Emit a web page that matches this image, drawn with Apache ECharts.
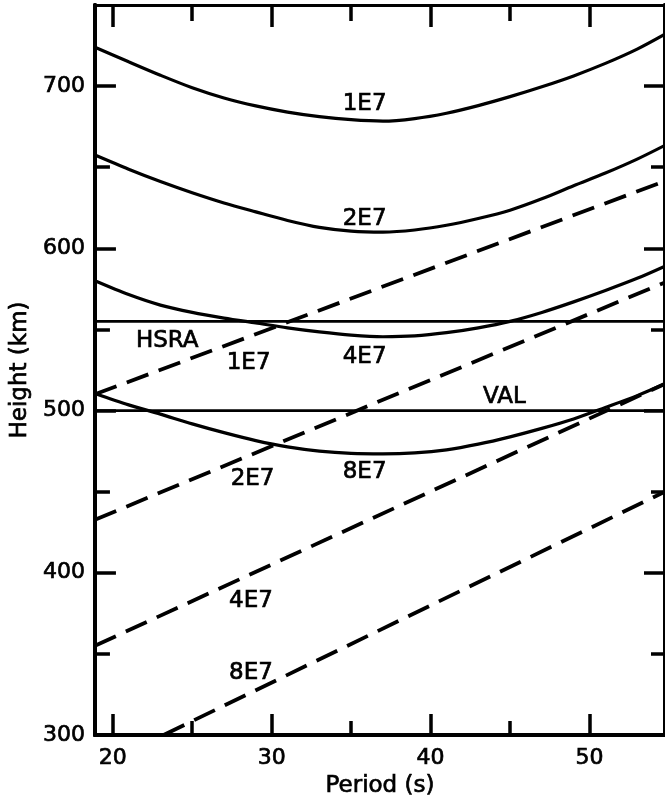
<!DOCTYPE html>
<html>
<head>
<meta charset="utf-8">
<script src="https://cdn.jsdelivr.net/npm/echarts@6/dist/echarts.min.js"></script>
<style>
  html, body { margin: 0; padding: 0; background: #fff; }
  #chart { width: 665px; height: 805px; }
</style>
</head>
<body>
<div id="chart"></div>
<script>
// Axis ranges and ticks
const xMin = 18.88, xMax = 54.75;
const yMin = 300, yMax = 750;
const xMajorTicks = [20, 30, 40, 50];
const xMinorTicks = [25, 35, 45];
const yMajorTicks = [300, 400, 500, 600, 700];
const yMinorTicks = [350, 450, 550, 650];

// Solid curves: height vs period for each value
const curvePeriod = [18.88, 21, 23, 25, 27, 29, 31, 33, 35, 37, 39, 41, 43, 45, 47, 49, 51, 53, 54.75];
const solid1E7Height = [724, 715, 706.7, 699, 692.7, 687.8, 684, 681.2, 679.3, 678.4, 680, 683.3, 688, 693.5, 699.6, 706.3, 714, 722.8, 732];
const solid2E7Height = [657.5, 648.8, 641.2, 634.3, 628, 622.5, 617.2, 612.9, 610.6, 610, 611.3, 614.2, 618.4, 623.5, 630.5, 638.6, 646.4, 655, 663.5];
const solid4E7Height = [580, 571.5, 565, 560.5, 557, 554, 551, 548.5, 546.5, 545.5, 546, 548, 551, 555, 560.5, 567, 574, 581.5, 589];
const solid8E7Height = [510.5, 503.5, 497.8, 491.8, 486.4, 481.5, 477.6, 475, 473.6, 473.3, 473.9, 475.8, 479.3, 483.8, 489, 494.8, 501.9, 509.2, 516.5];

// Model reference heights
const hsraHeight = 555;
const valHeight = 500;

// Dashed straight lines
const dashed1E7Period = [18.88, 54.75];
const dashed1E7Height = [510, 641.5];
const dashed2E7Period = [18.88, 54.75];
const dashed2E7Height = [432.7, 579];
const dashed4E7Period = [18.88, 54.75];
const dashed4E7Height = [355, 516.5];
const dashed8E7Period = [23.2, 54.75];
const dashed8E7Height = [300, 450];

// Curve annotations
const labelTexts = ['1E7', '2E7', '4E7', '8E7', 'HSRA', '1E7', 'VAL', '2E7', '4E7', '8E7'];
const labelPeriod = [35.85, 35.85, 35.85, 35.85, 23.43, 28.55, 44.64, 28.8, 28.7, 28.7];
const labelHeight = [689, 618, 533, 462, 543, 529, 508.5, 457.6, 382.5, 338.5];

const FONT = 'DejaVu Sans';
const INK = '#000';

function pairs(xs, ys) { return xs.map((x, i) => [x, ys[i]]); }

function xAxisDef(position, ticks, len, opts) {
  return Object.assign({
    type: 'value', position: position, min: xMin, max: xMax,
    axisLine: { show: true, lineStyle: { color: INK, width: position === 'bottom' ? 4 : 3 } },
    axisTick: { show: true, inside: true, length: len, customValues: ticks, lineStyle: { color: INK, width: 3.5 } },
    axisLabel: { show: false },
    splitLine: { show: false }
  }, opts || {});
}
function yAxisDef(position, ticks, len, opts) {
  return Object.assign({
    type: 'value', position: position, min: yMin, max: yMax,
    axisLine: { show: true, lineStyle: { color: INK, width: 4 } },
    axisTick: { show: true, inside: true, length: len, customValues: ticks, lineStyle: { color: INK, width: 3.5 } },
    axisLabel: { show: false },
    splitLine: { show: false }
  }, opts || {});
}

function solid(xs, ys) {
  return {
    type: 'line', data: pairs(xs, ys), smooth: 0.3, showSymbol: false,
    symbol: 'none', lineStyle: { color: INK, width: 3.2 }, silent: true, clip: true
  };
}
function dashed(xs, ys) {
  return {
    type: 'line', data: pairs(xs, ys), showSymbol: false, symbol: 'none',
    lineStyle: { color: INK, width: 3.8, type: [23, 11], cap: 'butt' }, silent: true, clip: true
  };
}
function flat(h) {
  return {
    type: 'line', data: [[xMin, h], [xMax, h]], showSymbol: false, symbol: 'none',
    lineStyle: { color: INK, width: 2.8 }, silent: true, clip: true
  };
}

// Slightly heavier lettering, like the inked figure text
const heavy = { color: INK, fontFamily: FONT, textBorderColor: INK, textBorderWidth: 0.7 };

const chart = echarts.init(document.getElementById('chart'), null, { renderer: 'canvas' });
chart.setOption({
  backgroundColor: '#fff',
  animation: false,
  textStyle: { fontFamily: FONT, color: INK },
  grid: { left: 93, right: -3, top: 5, bottom: 70, containLabel: false },
  xAxis: [
    xAxisDef('bottom', xMajorTicks, 21, {
      axisLabel: Object.assign({ show: true, customValues: xMajorTicks, fontSize: 22, margin: 12 }, heavy),
      name: 'Period (s)', nameLocation: 'middle', nameGap: 40,
      nameTextStyle: Object.assign({ fontSize: 23 }, heavy)
    }),
    xAxisDef('bottom', xMinorTicks, 14),
    xAxisDef('top', xMajorTicks, 22),
    xAxisDef('top', xMinorTicks, 16)
  ],
  yAxis: [
    yAxisDef('left', yMajorTicks, 21, {
      axisLabel: Object.assign({ show: true, customValues: yMajorTicks, fontSize: 22, margin: 10 }, heavy),
      name: 'Height (km)', nameLocation: 'middle', nameGap: 56,
      nameTextStyle: Object.assign({ fontSize: 23 }, heavy)
    }),
    yAxisDef('left', yMinorTicks, 15),
    yAxisDef('right', yMajorTicks, 21),
    yAxisDef('right', yMinorTicks, 14)
  ],
  series: [
    solid(curvePeriod, solid1E7Height),
    solid(curvePeriod, solid2E7Height),
    solid(curvePeriod, solid4E7Height),
    solid(curvePeriod, solid8E7Height),
    flat(hsraHeight),
    flat(valHeight),
    dashed(dashed1E7Period, dashed1E7Height),
    dashed(dashed2E7Period, dashed2E7Height),
    dashed(dashed4E7Period, dashed4E7Height),
    dashed(dashed8E7Period, dashed8E7Height),
    {
      type: 'scatter', symbolSize: 0, silent: true,
      itemStyle: { color: INK, opacity: 1 },
      data: labelTexts.map((t, i) => ({ name: t, value: [labelPeriod[i], labelHeight[i]] })),
      label: Object.assign({
        show: true, position: 'inside', formatter: p => p.name, fontSize: 23, opacity: 1
      }, heavy)
    }
  ]
});
</script>
</body>
</html>
